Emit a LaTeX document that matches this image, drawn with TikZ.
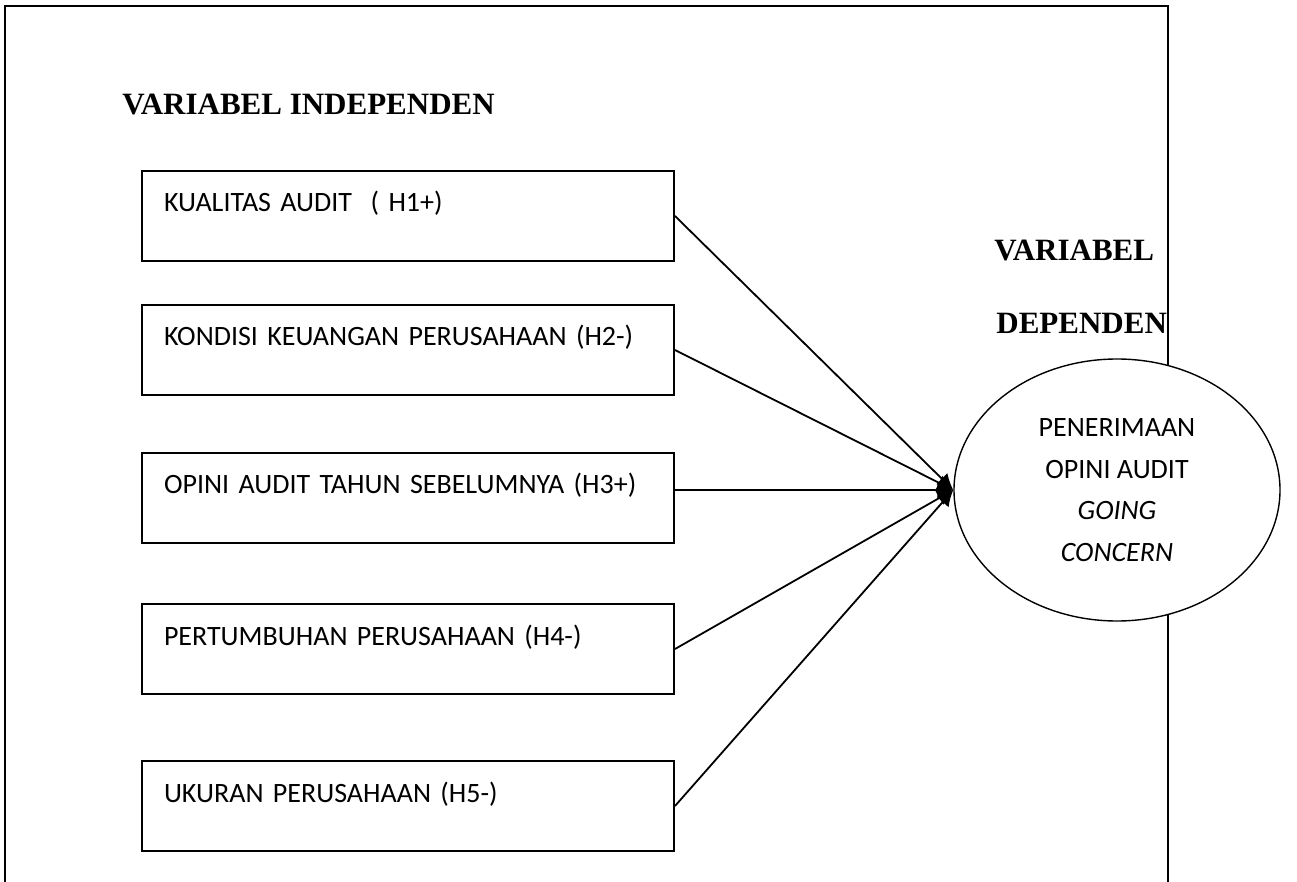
\documentclass[tikz,border=0pt]{standalone}
\usepackage{fontspec}
\setmainfont{Carlito}
\newfontfamily\headfont{Liberation Serif}
\usetikzlibrary{arrows.meta,shapes.geometric}

\tikzset{
    varbox/.style={draw, line width=1pt, anchor=north west, inner xsep=11pt, inner ysep=0pt,
        text width=244pt, align=left, text height=20.5pt, text depth=24.5pt,
        font=\fontsize{14}{16}\selectfont},
    heading/.style={anchor=west, inner sep=0pt, font=\headfont\bfseries\fontsize{15.5}{19}\selectfont},
    link/.style={line width=0.9pt, -{Latex[length=8pt,width=8pt]}},
}

\begin{document}
\begin{tikzpicture}[x=0.5pt,y=-0.5pt]
        \useasboundingbox (0,0) rectangle (1297,882);

        % outer frame, open at the bottom
        \draw[line width=1.1pt] (5,882) -- (5,6) -- (1168,6) -- (1168,882);

        \node[heading] (indep) at (122,105) {VARIABEL INDEPENDEN};
        \node[heading] (dep1) at (994,251) {VARIABEL};
        \node[heading] (dep2) at (996,323) {DEPENDEN};

        \node[varbox] (k1) at (141,170) {KUALITAS AUDIT\ \ ( H1+)};
        \node[varbox] (k2) at (141,304) {KONDISI KEUANGAN PERUSAHAAN (H2-)};
        \node[varbox] (k3) at (141,452) {OPINI AUDIT TAHUN SEBELUMNYA (H3+)};
        \node[varbox] (k4) at (141,603) {PERTUMBUHAN PERUSAHAAN (H4-)};
        \node[varbox] (k5) at (141,760) {UKURAN PERUSAHAAN (H5-)};

        \node[ellipse, draw, fill=white, line width=0.7pt, minimum width=163pt, minimum height=131pt,
            inner sep=0pt, align=center, font=\fontsize{14}{20.75}\selectfont] (goc) at (1117,490)
            {PENERIMAAN\\OPINI AUDIT\\\textit{GOING}\\\textit{CONCERN}};

        \draw[link] (k1.east) -- (goc.west);
        \draw[link] (k2.east) -- (goc.west);
        \draw[link] (k3.east |- goc.west) -- (goc.west);
        \draw[link] (k4.east) -- (goc.west);
        \draw[link] (k5.east) -- (goc.west);
    \end{tikzpicture}
\end{document}
